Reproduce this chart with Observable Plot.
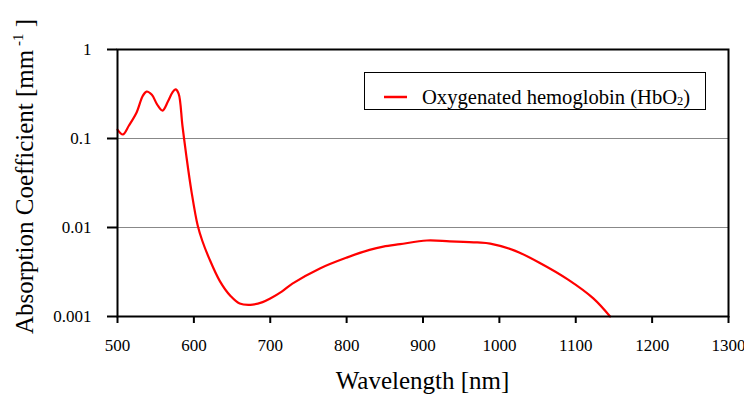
<!DOCTYPE html>
<html>
<head>
<meta charset="utf-8">
<script src="https://cdn.jsdelivr.net/npm/d3@7"></script>
<script src="https://cdn.jsdelivr.net/npm/@observablehq/plot@0.6"></script>
<style>
  html, body { margin: 0; padding: 0; background: #fff; }
  #chart svg { display: block; overflow: visible; }
</style>
</head>
<body>
<div id="chart"></div>
<script>
const wavelength = [500, 507, 515, 525, 533, 538, 545, 552, 559, 566, 572, 576, 580, 585, 590, 597, 605, 611, 620, 634, 648, 660, 677, 690, 700, 715, 729, 765, 800, 830, 848, 870, 905, 935, 971, 988, 1020, 1053, 1090, 1123, 1145];
const absorption = [0.126, 0.111, 0.14, 0.196, 0.30, 0.337, 0.31, 0.24, 0.206, 0.26, 0.33, 0.356, 0.32, 0.14, 0.065, 0.025, 0.0105, 0.0071, 0.0045, 0.0025, 0.0017, 0.0014, 0.00136, 0.00145, 0.00159, 0.0019, 0.00234, 0.00347, 0.00459, 0.0056, 0.0061, 0.0065, 0.00714, 0.00700, 0.0068, 0.0066, 0.0055, 0.0040, 0.0026, 0.0016, 0.001];
const xTicks = [500, 600, 700, 800, 900, 1000, 1100, 1200, 1300];
const yTicks = [1, 0.1, 0.01, 0.001];
const yTickLabels = ["1", "0.1", "0.01", "0.001"];
const gridValues = [0.1, 0.01];
const seriesName = "Oxygenated hemoglobin (HbO";
const seriesSub = "2";
const xTitle = "Wavelength [nm]";
const yTitle = "Absorption Coefficient [mm";
const yTitleSup = "-1";

const data = wavelength.map((w, i) => ({w, a: absorption[i]}));
const font = "'Liberation Serif', 'Times New Roman', serif";

const W = 744, H = 394;
const mL = 117, mR = 16, mT = 49, mB = 78;

const chart = Plot.plot({
  width: W, height: H,
  marginLeft: mL, marginRight: mR, marginTop: mT, marginBottom: mB,
  style: {fontFamily: font, color: "black", background: "white"},
  x: {type: "linear", domain: [500, 1300]},
  y: {type: "log", domain: [0.001, 1]},
  marks: [
    Plot.ruleY(gridValues, {stroke: "#888", strokeWidth: 1}),
    Plot.line(data, {x: "w", y: "a", stroke: "#ff0000", strokeWidth: 2.2, curve: "catmull-rom"}),
    Plot.frame({stroke: "black", strokeWidth: 2}),
    Plot.axisX({ticks: xTicks, tickSize: 7, tickPadding: 15, fontSize: 17, strokeWidth: 2, label: null,
      fontFamily: font, tickFormat: d => String(d)}),
    Plot.axisY({ticks: yTicks, tickSize: 10, tickPadding: 16, fontSize: 17, strokeWidth: 2, label: null,
      fontFamily: font, tickFormat: d => yTickLabels[yTicks.indexOf(d)] ?? String(d)})
  ]
});

document.getElementById("chart").appendChild(chart);

const svg = d3.select(chart);
// Axis titles
svg.append("text")
  .attr("x", (mL + W - mR) / 2).attr("y", 389)
  .attr("text-anchor", "middle")
  .attr("font-family", font).attr("font-size", 25).attr("fill", "black")
  .text(xTitle);

const yt = svg.append("text")
  .attr("transform", `translate(33, ${(mT + H - mB) / 2 - 6}) rotate(-90)`)
  .attr("text-anchor", "middle")
  .attr("font-family", font).attr("font-size", 25).attr("fill", "black");
yt.append("tspan").text(yTitle);
yt.append("tspan").attr("font-size", 15).attr("dy", -10).text(" " + yTitleSup);
yt.append("tspan").attr("dy", 10).text(" ]");

// Legend
const lg = svg.append("g");
lg.append("rect").attr("x", 364.5).attr("y", 72.5).attr("width", 341).attr("height", 37)
  .attr("fill", "white").attr("stroke", "black").attr("stroke-width", 1);
lg.append("line").attr("x1", 384).attr("x2", 407).attr("y1", 97).attr("y2", 97)
  .attr("stroke", "#ff0000").attr("stroke-width", 2.5);
const lt = lg.append("text").attr("x", 422).attr("y", 104)
  .attr("text-anchor", "start")
  .attr("font-family", font).attr("font-size", 20.6).attr("fill", "black");
lt.append("tspan").text(seriesName);
lt.append("tspan").attr("font-size", 12.5).attr("dy", 1).text(seriesSub);
lt.append("tspan").attr("dy", -1).text(")");
</script>
</body>
</html>
